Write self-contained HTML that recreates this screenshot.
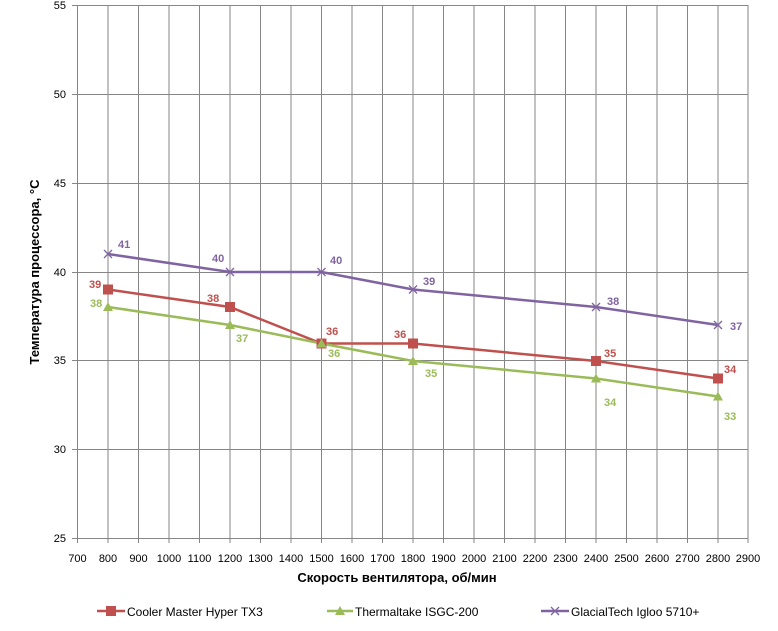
<!DOCTYPE html>
<html><head><meta charset="utf-8"><style>
body{margin:0;background:#fff;}
svg{display:block;font-family:"Liberation Sans","DejaVu Sans",sans-serif;}
</style></head><body>
<svg width="778" height="631" viewBox="0 0 778 631" xmlns="http://www.w3.org/2000/svg">
<g stroke="#868686" stroke-width="1">
<!-- vertical grid -->
<path d="M77.5 5V538M108 5V538M138.5 5V538M169 5V538M199.5 5V538M230 5V538M260.5 5V538M291 5V538M321.5 5V538M352 5V538M382.5 5V538M413 5V538M443.5 5V538M474 5V538M504.5 5V538M535 5V538M565.5 5V538M596 5V538M626.5 5V538M657 5V538M687.5 5V538M718 5V538M748 5V538"/>
<path d="M72 5.5H748M72 94.5H748M72 183.5H748M72 272.5H748M72 360.5H748M72 449.5H748M72 538.5H748"/>
<path d="M77.5 538V543M108 538V543M138.5 538V543M169 538V543M199.5 538V543M230 538V543M260.5 538V543M291 538V543M321.5 538V543M352 538V543M382.5 538V543M413 538V543M443.5 538V543M474 538V543M504.5 538V543M535 538V543M565.5 538V543M596 538V543M626.5 538V543M657 538V543M687.5 538V543M718 538V543M748 538V543"/>
</g>
<g font-size="11" fill="#000" text-anchor="end">
<text x="66" y="9">55</text><text x="66" y="98">50</text><text x="66" y="187">45</text><text x="66" y="276">40</text><text x="66" y="364">35</text><text x="66" y="453">30</text><text x="66" y="542">25</text>
</g>
<g font-size="11" fill="#000" text-anchor="middle">
<text x="77.5" y="562">700</text><text x="108" y="562">800</text><text x="138.5" y="562">900</text><text x="169" y="562">1000</text><text x="199.5" y="562">1100</text><text x="230" y="562">1200</text><text x="260.5" y="562">1300</text><text x="291" y="562">1400</text><text x="321.5" y="562">1500</text><text x="352" y="562">1600</text><text x="382.5" y="562">1700</text><text x="413" y="562">1800</text><text x="443.5" y="562">1900</text><text x="474" y="562">2000</text><text x="504.5" y="562">2100</text><text x="535" y="562">2200</text><text x="565.5" y="562">2300</text><text x="596" y="562">2400</text><text x="626.5" y="562">2500</text><text x="657" y="562">2600</text><text x="687.5" y="562">2700</text><text x="718" y="562">2800</text><text x="748" y="562">2900</text>
</g>
<text x="397" y="582" font-size="13" font-weight="bold" text-anchor="middle">Скорость вентилятора, об/мин</text>
<text transform="translate(39 272) rotate(-90)" font-size="13" font-weight="bold" text-anchor="middle">Температура процессора, °C</text>
<!-- series -->
<polyline points="108,289.5 230,307 321.5,343.5 413,343.5 596,361 718,378.5" fill="none" stroke="#c0504d" stroke-width="2.5"/>
<polyline points="108,307 230,325 321.5,343.5 413,361 596,378.5 718,396.5" fill="none" stroke="#9bbb59" stroke-width="2.5"/>
<polyline points="108,254 230,272 321.5,272 413,289.5 596,307 718,325" fill="none" stroke="#8064a2" stroke-width="2.5"/>
<g fill="#c0504d">
<rect x="103" y="284.5" width="10" height="10"/><rect x="225" y="302" width="10" height="10"/><rect x="316.5" y="338.5" width="10" height="10"/><rect x="408" y="338.5" width="10" height="10"/><rect x="591" y="356" width="10" height="10"/><rect x="713" y="373.5" width="10" height="10"/>
</g>
<g fill="#9bbb59">
<path d="M108 302l5 9h-10z"/><path d="M230 320l5 9h-10z"/><path d="M321.5 338.5l5 9h-10z"/><path d="M413 356l5 9h-10z"/><path d="M596 373.5l5 9h-10z"/><path d="M718 391.5l5 9h-10z"/>
</g>
<g stroke="#8064a2" stroke-width="1.3">
<path d="M104 250l8 8M112 250l-8 8"/><path d="M226 268l8 8M234 268l-8 8"/><path d="M317.5 268l8 8M325.5 268l-8 8"/><path d="M409 285.5l8 8M417 285.5l-8 8"/><path d="M592 303l8 8M600 303l-8 8"/><path d="M714 321l8 8M722 321l-8 8"/>
</g>
<g font-size="11" font-weight="bold">
<g fill="#c0504d"><text x="89" y="288">39</text><text x="207" y="302">38</text><text x="326" y="335">36</text><text x="394" y="338">36</text><text x="604" y="357">35</text><text x="724" y="373">34</text></g>
<g fill="#9bbb59"><text x="90" y="307">38</text><text x="236" y="342">37</text><text x="328" y="357">36</text><text x="425" y="377">35</text><text x="604" y="406">34</text><text x="724" y="420">33</text></g>
<g fill="#8064a2"><text x="118" y="248">41</text><text x="212" y="262">40</text><text x="330" y="264">40</text><text x="423" y="285">39</text><text x="607" y="305">38</text><text x="730" y="330">37</text></g>
</g>
<!-- legend -->
<line x1="97" y1="611" x2="125" y2="611" stroke="#c0504d" stroke-width="2.5"/><rect x="106" y="606" width="10" height="10" fill="#c0504d"/>
<text x="127" y="616" font-size="12">Cooler Master Hyper TX3</text>
<line x1="327" y1="611" x2="353" y2="611" stroke="#9bbb59" stroke-width="2.5"/><path d="M340 606l5 9h-10z" fill="#9bbb59"/>
<text x="355" y="616" font-size="12">Thermaltake ISGC-200</text>
<line x1="541" y1="611" x2="569" y2="611" stroke="#8064a2" stroke-width="2.5"/><path d="M551 607l8 8M559 607l-8 8" stroke="#8064a2" stroke-width="1.3"/>
<text x="571" y="616" font-size="12">GlacialTech Igloo 5710+</text>
</svg>
</body></html>
